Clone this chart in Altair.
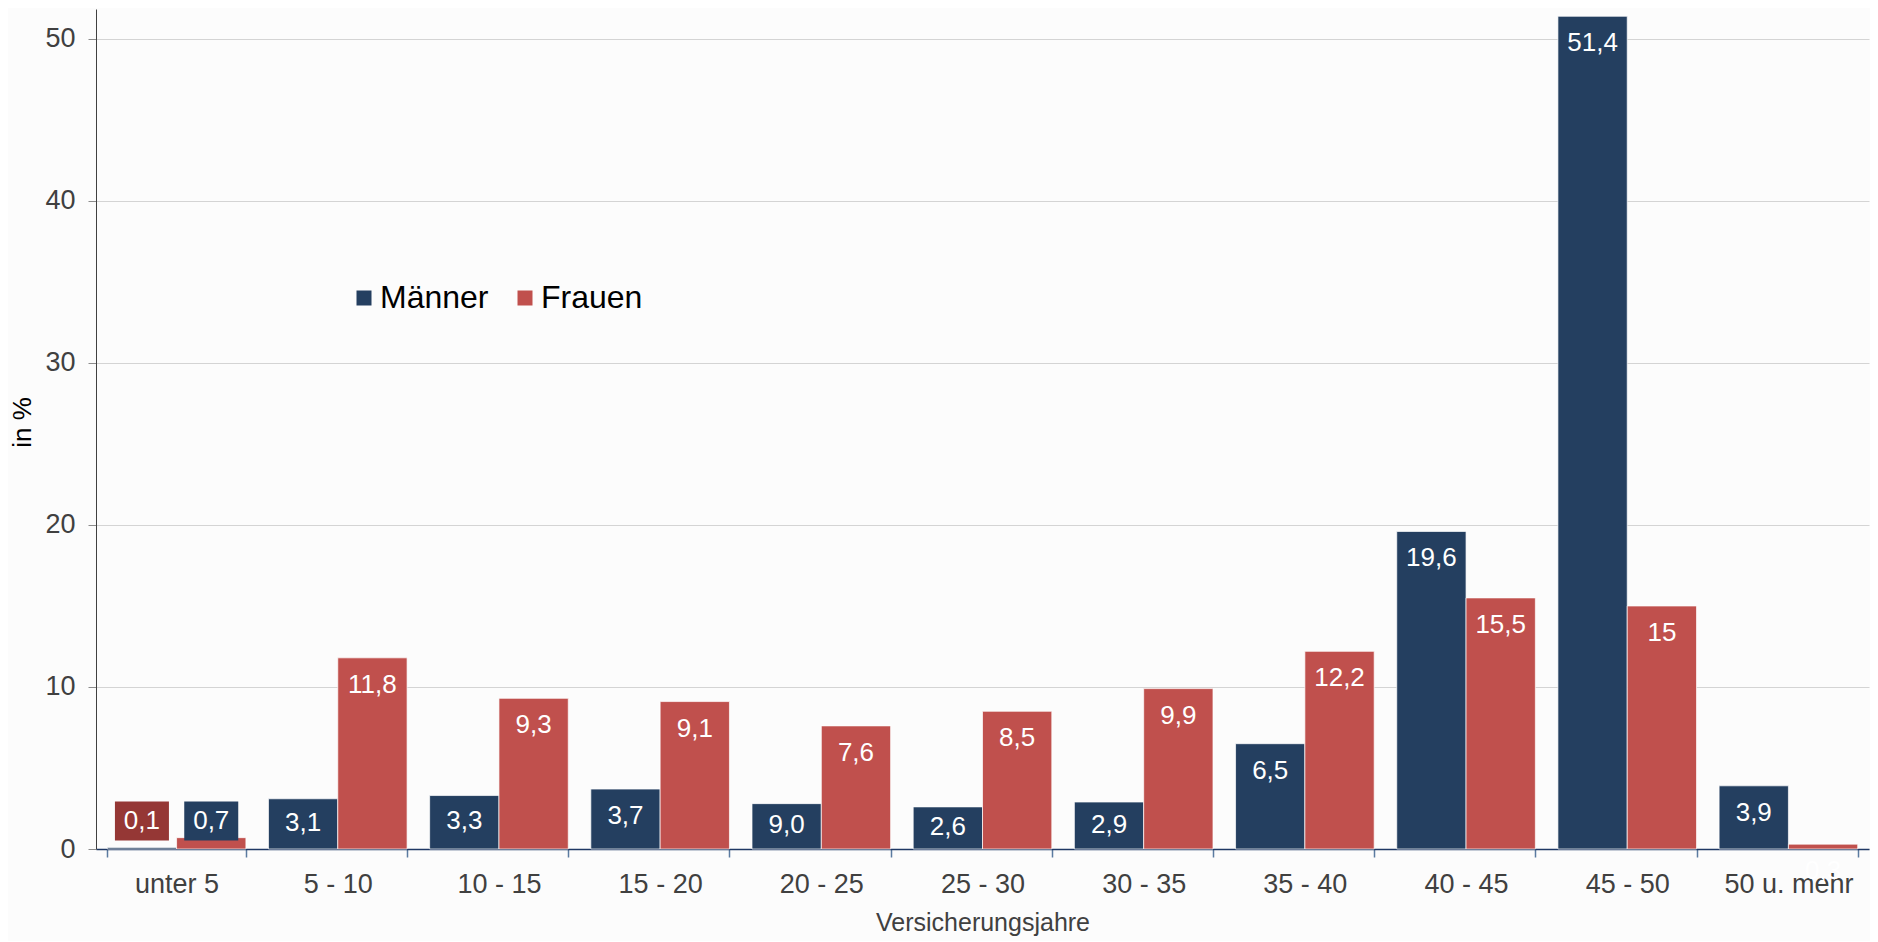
import altair as alt
import pandas as pd

categories = ["unter 5", "5 - 10", "10 - 15", "15 - 20", "20 - 25", "25 - 30",
              "30 - 35", "35 - 40", "40 - 45", "45 - 50", "50 u. mehr"]
series = ["Männer", "Frauen"]
maenner = [0.1, 3.1, 3.3, 3.7, 2.8, 2.6, 2.9, 6.5, 19.6, 51.4, 3.9]
frauen = [0.7, 11.8, 9.3, 9.1, 7.6, 8.5, 9.9, 12.2, 15.5, 15.0, 0.3]
maenner_labels = ["0,1", "3,1", "3,3", "3,7", "9,0", "2,6", "2,9", "6,5", "19,6", "51,4", "3,9"]
frauen_labels = ["0,7", "11,8", "9,3", "9,1", "7,6", "8,5", "9,9", "12,2", "15,5", "15", "0,3"]

rows = []
for i, c in enumerate(categories):
    rows.append(dict(cat=c, series="Männer", value=maenner[i], label=maenner_labels[i]))
    rows.append(dict(cat=c, series="Frauen", value=frauen[i], label=frauen_labels[i]))
df = pd.DataFrame(rows)

NAVY = "#243F60"
RED = "#C0504D"
DARKRED = "#953735"
FONT = "Liberation Sans"
LABEL_SIZE = 26

x_enc = alt.X(
    "cat:N", sort=categories,
    scale=alt.Scale(paddingInner=0.14, paddingOuter=0.07),
    axis=alt.Axis(title="Versicherungsjahre", labelAngle=0, tickBand="extent",
                  domainColor="#1F3864", domainWidth=1.5, tickColor="#5B7BA0",
                  tickWidth=1.5, tickSize=8, labelFontSize=27, labelColor="#404040",
                  labelPadding=14, titleFontSize=25, titleColor="#404040",
                  titleFontWeight="normal", titleY=81, titleBaseline="alphabetic",
                  grid=False),
)
xo_enc = alt.XOffset("series:N", sort=series,
                     scale=alt.Scale(paddingInner=0, paddingOuter=0))
y_axis = alt.Axis(values=[0, 10, 20, 30, 40, 50], title="in %", titleX=-66, titleY=413,
                  titleFontSize=26, titleColor="black", titleFontWeight="normal",
                  titleAngle=270, titleBaseline="alphabetic", titleAlign="center",
                  labelFontSize=27, labelColor="#404040", labelPadding=13,
                  tickSize=8, tickColor="#8c8c8c", domainColor="#404040",
                  gridColor="#d4d4d4", gridWidth=1.2)
y_scale = alt.Scale(domain=[0, 51.85], nice=False, zero=True)

base = alt.Chart(df)

bars = base.mark_bar(stroke="white", strokeWidth=1, strokeOpacity=0.7).encode(
    x=x_enc, xOffset=xo_enc,
    y=alt.Y("value:Q", scale=y_scale, axis=y_axis),
    color=alt.Color("series:N", sort=series,
                    scale=alt.Scale(domain=series, range=[NAVY, RED]),
                    legend=alt.Legend(title=None, orient="none", legendX=252, legendY=273,
                                      direction="horizontal", symbolType="square",
                                      symbolSize=225, symbolStrokeWidth=0,
                                      labelFontSize=32, labelColor="black",
                                      labelOffset=0, columnPadding=20, padding=0,
                                      labelFont=FONT)),
)

top_labels = base.transform_filter(
    "datum.cat != 'unter 5' && (datum.value >= 3.4 || datum.value < 1)"
).mark_text(color="white", fontSize=LABEL_SIZE, baseline="middle", align="center", dy=27).encode(
    x=x_enc, xOffset=xo_enc,
    y=alt.Y("value:Q", scale=y_scale, axis=y_axis),
    text="label:N",
)

mid_labels = base.transform_filter(
    "datum.cat != 'unter 5' && datum.value < 3.4 && datum.value >= 1"
).transform_calculate(mid="datum.value / 2").mark_text(
    color="white", fontSize=LABEL_SIZE, baseline="middle", align="center", dy=-1
).encode(
    x=x_enc, xOffset=xo_enc,
    y=alt.Y("mid:Q", scale=y_scale, axis=y_axis),
    text="label:N",
)

boxes = base.transform_filter("datum.cat == 'unter 5'").transform_calculate(
    base="0"
).mark_point(shape="M-1,-0.72L1,-0.72L1,0.72L-1,0.72Z", size=2916, filled=True,
             opacity=1, strokeWidth=0, yOffset=-28).encode(
    x=x_enc, xOffset=xo_enc,
    y=alt.Y("base:Q", scale=y_scale, axis=y_axis),
    color=alt.condition("datum.series == 'Männer'", alt.value(DARKRED), alt.value(NAVY)),
)

box_labels = base.transform_filter("datum.cat == 'unter 5'").transform_calculate(
    base="0"
).mark_text(color="white", fontSize=LABEL_SIZE, baseline="middle", align="center", dy=-28).encode(
    x=x_enc, xOffset=xo_enc,
    y=alt.Y("base:Q", scale=y_scale, axis=y_axis),
    text="label:N",
)

chart = alt.layer(bars, top_labels, mid_labels, boxes, box_labels).properties(
    width=1773, height=840,
    autosize=alt.AutoSizeParams(type="none"),
    padding={"left": 88, "top": 1, "right": 1, "bottom": 92},
    background="#fcfcfc",
).configure(font=FONT).configure_view(stroke=None).configure_axis(labelFont=FONT, titleFont=FONT)

chart.save("out.html", embed_options={"renderer": "svg", "actions": False})
